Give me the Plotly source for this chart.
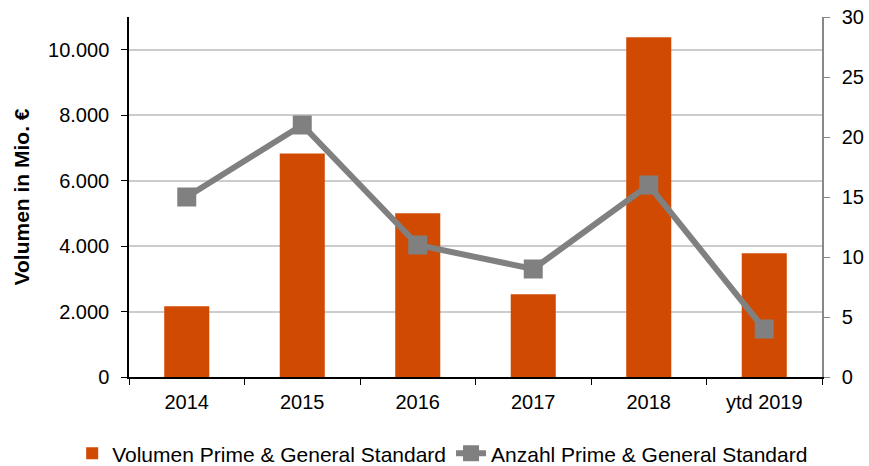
import plotly.graph_objects as go

categories = ["2014", "2015", "2016", "2017", "2018", "ytd 2019"]
volumen = [2160, 6830, 5000, 2530, 10380, 3780]
anzahl = [15, 21, 11, 9, 16, 4]

bar_name = "Volumen Prime & General Standard"
line_name = "Anzahl Prime & General Standard"

FONT = "Liberation Sans, Arial, sans-serif"

fig = go.Figure()
fig.add_trace(go.Bar(
    x=categories, y=volumen, name=bar_name,
    marker=dict(color="#D04A02", line=dict(width=0)),
    width=0.39, yaxis="y",
))
fig.add_trace(go.Scatter(
    x=categories, y=anzahl, name=line_name, mode="lines+markers",
    line=dict(color="#808080", width=6),
    marker=dict(symbol="square", size=19, color="#808080"),
    yaxis="y2",
))

fig.update_layout(
    width=869, height=466,
    margin=dict(l=129, r=47, t=17, b=89, autoexpand=False),
    paper_bgcolor="white", plot_bgcolor="white",
    separators=",.",
    font=dict(family=FONT, size=20, color="#000000"),
    xaxis=dict(
        type="category", range=[-0.5, 5.5],
        showline=True, linecolor="#000000", linewidth=1.5,
        ticks="outside", tickson="boundaries", ticklen=6, tickcolor="#000000",
        tickfont=dict(size=20), showgrid=False, ticklabelstandoff=6,
    ),
    yaxis=dict(
        range=[0, 11000], tick0=0, dtick=2000, tickformat=",d",
        showline=True, linecolor="#000000", linewidth=1.5,
        ticks="outside", ticklen=6, tickcolor="#000000",
        showgrid=True, gridcolor="#CCCCCC", gridwidth=1.5,
        zeroline=False, ticklabelstandoff=8,
        title=dict(text="Volumen in Mio. €", font=dict(size=21, weight="bold"), standoff=13),
        tickfont=dict(size=20),
    ),
    yaxis2=dict(
        overlaying="y", side="right", range=[0, 30], tick0=0, dtick=5,
        showline=True, linecolor="#888888", linewidth=1.5,
        ticks="outside", ticklen=6, tickcolor="#888888",
        showgrid=False, zeroline=False, ticklabelstandoff=8,
        tickfont=dict(size=20),
    ),
    legend=dict(
        orientation="h", x=-0.082, xanchor="left",
        y=-0.213, yanchor="middle",
        font=dict(size=21), traceorder="normal", itemwidth=30,
        bgcolor="rgba(0,0,0,0)",
    ),
)

fig.write_html(
    "out.html",
    config={"displayModeBar": False},
    post_script="document.body.style.margin='0';document.body.style.overflow='hidden';",
)
